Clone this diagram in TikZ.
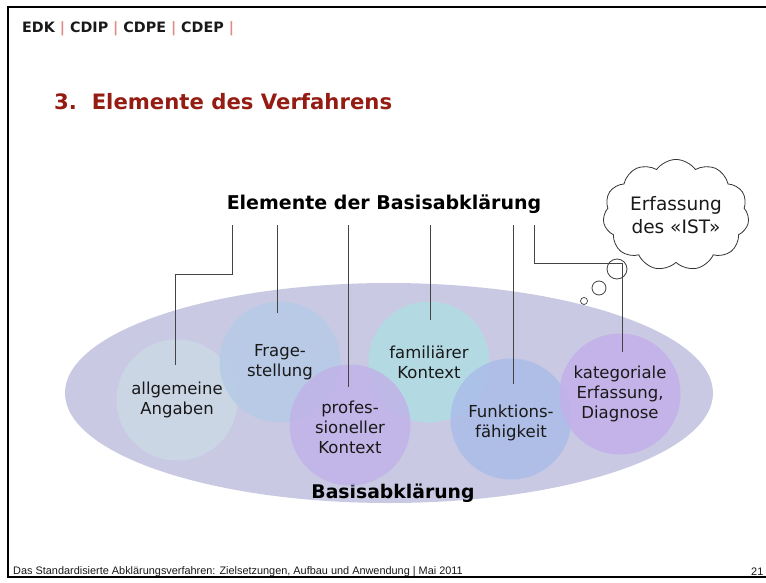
\documentclass[tikz,border=0pt]{standalone}
\usepackage{fontspec}
\setmainfont{DejaVu Sans}
\newfontfamily\footfont{Liberation Sans}
\usetikzlibrary{shapes.symbols,shapes.geometric}
\definecolor{ellcol}{HTML}{C9C9E3}
\definecolor{cA}{HTML}{CCD9E6}
\definecolor{cB}{HTML}{B6CBE6}
\definecolor{cC}{HTML}{C0B3E8}
\definecolor{cD}{HTML}{B0DEE3}
\definecolor{cE}{HTML}{ABBDE8}
\definecolor{cF}{HTML}{C2B0EA}
\definecolor{titlered}{HTML}{941C12}
\definecolor{seppink}{HTML}{E08A8A}
\definecolor{linegray}{HTML}{444444}
\tikzset{
  bubble/.style={circle, minimum size=121pt, inner sep=0pt, fill opacity=0.85, text opacity=1, align=center,
    font=\fontsize{16.5}{20}\selectfont, text=black!90},
  btext/.style={align=center, font=\fontsize{16.5}{20}\selectfont, text=black!90},
  conn/.style={draw=linegray, line width=0.9pt},
  thought/.style={draw=black!75, line width=0.8pt},
}
\begin{document}
\begin{tikzpicture}[x=1pt,y=-1pt]
\useasboundingbox (0,0) rectangle (766,583);
% frame
\draw[line width=2pt, black] (766,7) -- (8,7) -- (8,577) -- (766,577);
% header
\node[anchor=west, inner sep=0pt, font=\bfseries\fontsize{14.3}{17}\selectfont, text=black!90] (hdr) at (22,29)
  {EDK \textcolor{seppink}{|} CDIP \textcolor{seppink}{|} CDPE \textcolor{seppink}{|} CDEP \textcolor{seppink}{|}};
% title
\node[anchor=west, inner sep=0pt, font=\bfseries\fontsize{21.2}{25}\selectfont, text=titlered] (title) at (54,102)
  {3.\ \ Elemente des Verfahrens};
% main ellipse
\node[ellipse, minimum width=648pt, minimum height=220pt, fill=ellcol, inner sep=0pt] (ell) at (389,393) {};
\node[font=\bfseries\fontsize{18.8}{22}\selectfont, inner sep=0pt] (basis) at (393,493) {Basisabklärung};
% circles
\node[bubble, fill=cA] (c1) at (177,400) {allgemeine\\Angaben};
\node[bubble, fill=cB] (c2) at (280,362) {};
\node[bubble, fill=cD] (c4) at (429,362) {};
\node[bubble, fill=cC] (c3) at (350,425) {};
\node[bubble, fill=cE] (c5) at (511,419) {};
\node[bubble, fill=cF] (c6) at (620,394) {kategoriale\\Erfassung,\\Diagnose};
\node[btext] (t2) at (280,362) {Frage-\\stellung};
\node[btext] (t4) at (429,362) {familiärer\\Kontext};
\node[btext] (t3) at (350,427) {profes-\\sioneller\\Kontext};
\node[btext] (t5) at (511,423) {Funktions-\\fähigkeit};
% heading
\node[font=\bfseries\fontsize{19}{22}\selectfont, inner sep=0pt] (hd) at (384,204) {Elemente der Basisabklärung};
% connector coordinates
\coordinate (s1) at (232,225); \coordinate (e1) at (175,365);
\coordinate (s2) at (277,225); \coordinate (e2) at (277,313);
\coordinate (s3) at (348,225); \coordinate (e3) at (348,387);
\coordinate (s4) at (430,225); \coordinate (e4) at (430,320);
\coordinate (s5) at (513,225); \coordinate (e5) at (513,384);
\coordinate (s6) at (534,225); \coordinate (e6) at (622,352);
\draw[conn] (s1) -- (232,274) -| (e1);
\draw[conn] (s2) -- (e2);
\draw[conn] (s3) -- (e3);
\draw[conn] (s4) -- (e4);
\draw[conn] (s5) -- (e5);
\draw[conn] (s6) |- (e6|-0,263) -- (e6);
% thought bubbles and cloud
\node[cloud, cloud puffs=11, cloud puff arc=110, aspect=1.35, draw=black!80, line width=0.8pt, fill=white,
  minimum width=146pt, minimum height=104pt, align=center, inner sep=0pt,
  font=\fontsize{18.5}{23}\selectfont, text=black!90] (cloud) at (676,215) {Erfassung\\des «IST»};
\node[thought, circle, minimum size=20pt, inner sep=0pt] (b1) at (617,269) {};
\node[thought, circle, minimum size=14pt, inner sep=0pt] (b2) at (599,288) {};
\node[thought, circle, line width=0.7pt, minimum size=7pt, inner sep=0pt] (b3) at (584,301) {};
% footer
\node[anchor=west, inner sep=0pt, font=\footfont\fontsize{10.9}{13}\selectfont, text=black!90] (foot) at (13,572)
  {Das Standardisierte Abklärungsverfahren: Zielsetzungen, Aufbau und Anwendung | Mai 2011};
\node[anchor=west, inner sep=0pt, font=\footfont\fontsize{10.9}{13}\selectfont, text=black!90] (pg) at (751,572) {21};
\end{tikzpicture}
\end{document}
